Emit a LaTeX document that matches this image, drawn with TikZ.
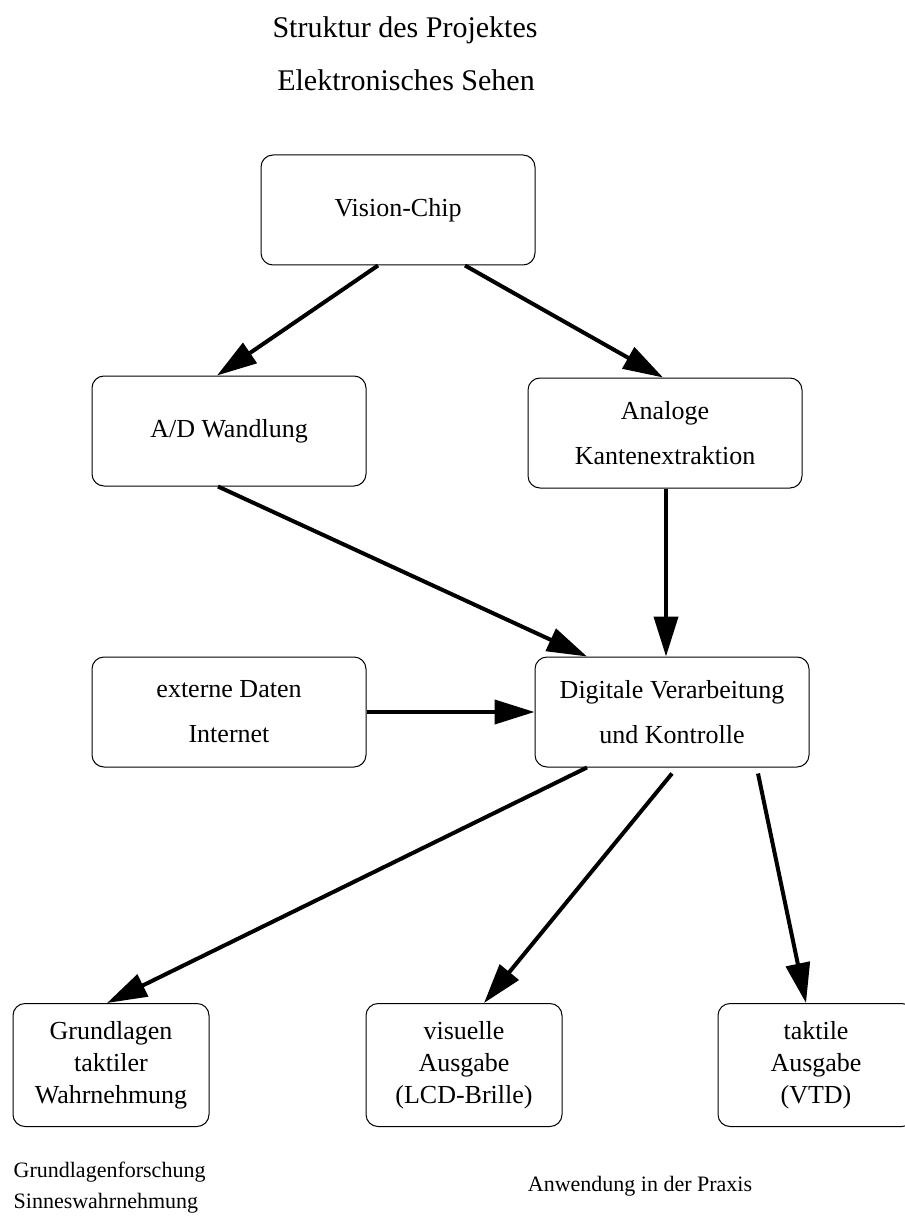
\documentclass[tikz,border=0pt]{standalone}
\usepackage{fontspec}
\setmainfont{Liberation Serif}
\usetikzlibrary{arrows.meta}

\begin{document}
\begin{tikzpicture}[x=0.5pt,y=-0.5pt,-{Triangle[length=20pt,width=12pt]},line width=2pt,
  box/.style ={draw,line width=0.5pt,rounded corners=6pt,align=center,minimum width=137pt,minimum height=55pt,font=\fontsize{13}{22.5}\selectfont},
  unten/.style ={draw,line width=0.5pt,rounded corners=6pt,align=center,minimum width=98pt,minimum height=61.5pt,font=\fontsize{13}{16}\selectfont}]

\useasboundingbox (0,0) rectangle (904,1219);

\node[font=\fontsize{15}{18}\selectfont] (T1) at (405,30) {Struktur des Projektes};
\node[font=\fontsize{15}{18}\selectfont] (T2) at (406,80) {Elektronisches Sehen};

\node[box] (V) at (398,210) {Vision-Chip};
\node[box] (AD) at (229,431) {A/D Wandlung};
\node[box] (AK) at (665,433) {Analoge\\Kantenextraktion};
\node[box] (EX) at (229,712) {externe Daten\\Internet};
\node[box] (DV) at (672,712) {Digitale Verarbeitung\\und Kontrolle};
\node[unten] (GT) at (111,1065) {Grundlagen\\taktiler\\Wahrnehmung};
\node[unten] (VA) at (464,1065) {visuelle\\Ausgabe\\(LCD-Brille)};
\node[unten] (TA) at (816,1065) {taktile\\Ausgabe\\(VTD)};

\node[align=left,anchor=west,font=\fontsize{11}{15.5}\selectfont] (GF) at (5,1188) {Grundlagenforschung\\Sinneswahrnehmung};
\node[font=\fontsize{11}{15.5}\selectfont] (AP) at (640,1186) {Anwendung in der Praxis};

\path ([xshift=-10pt]V.south) edge ([xshift=-6pt]AD.north);
\path ([xshift=33.5pt]V.south) edge ([xshift=-1pt]AK.north);
\path ([xshift=-5.5pt]AD.south) edge ([xshift=-42.5pt]DV.north);
\path ([xshift=0.5pt]AK.south) edge ([xshift=0.5pt]AK.south |- DV.north);
\path (EX.east) edge (EX.east -| DV.west);
\path ([xshift=-42.5pt]DV.south) edge ([xshift=-2pt]GT.north);
\path ([xshift=0pt,yshift=-3pt]DV.south) edge ([xshift=10pt]VA.north);
\path ([xshift=43pt,yshift=-3pt]DV.south) edge ([xshift=-5pt]TA.north);
\end{tikzpicture}
\end{document}
